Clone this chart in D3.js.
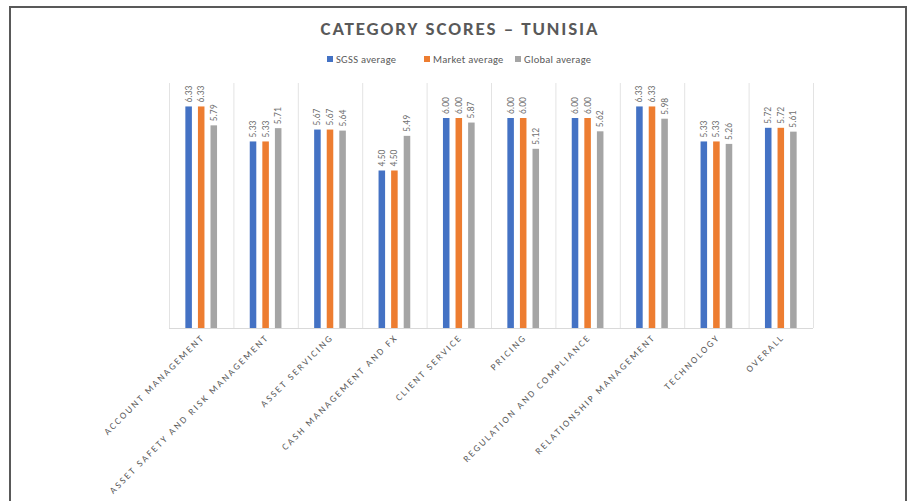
<!DOCTYPE html>
<html>
<head>
<meta charset="utf-8">
<script src="https://cdn.jsdelivr.net/npm/d3@7"></script>
<style>
  body { margin: 0; background: #fff; }
  svg { display: block; font-family: Calibri, Carlito, "Open Sans", sans-serif; }
</style>
</head>
<body>
<svg id="chart" width="911" height="501"></svg>
<script>
const categories = [
    'ACCOUNT MANAGEMENT', 'ASSET SAFETY AND RISK MANAGEMENT', 'ASSET SERVICING',
    'CASH MANAGEMENT AND FX', 'CLIENT SERVICE', 'PRICING', 'REGULATION AND COMPLIANCE',
    'RELATIONSHIP MANAGEMENT', 'TECHNOLOGY', 'OVERALL'
];
const seriesNames = ['SGSS average', 'Market average', 'Global average'];
const sgss   = [6.33, 5.33, 5.67, 4.50, 6.00, 6.00, 6.00, 6.33, 5.33, 5.72];
const market = [6.33, 5.33, 5.67, 4.50, 6.00, 6.00, 6.00, 6.33, 5.33, 5.72];
const global = [5.79, 5.71, 5.64, 5.49, 5.87, 5.12, 5.62, 5.98, 5.26, 5.61];
const colors = ['#4472C4', '#ED7D31', '#A5A5A5'];

const svg = d3.select('#chart');
const plot = { left: 169, right: 813, top: 83, bottom: 328 };

// frame around the chart (no bottom edge visible)
svg.append('path')
    .attr('d', `M10,501 V7 H906 V501`)
    .attr('fill', 'none')
    .attr('stroke', '#595959')
    .attr('stroke-width', 2);

svg.append('text')
    .attr('x', 460).attr('y', 35)
    .attr('text-anchor', 'middle')
    .attr('font-size', 19).attr('font-weight', 'bold')
    .attr('letter-spacing', 1.9)
    .attr('fill', '#595959')
    .text('CATEGORY SCORES \u2013 TUNISIA');

// legend
const legendX = [327, 424, 515];
const legend = svg.append('g');
seriesNames.forEach((name, i) => {
    legend.append('rect')
        .attr('x', legendX[i]).attr('y', 56)
        .attr('width', 6).attr('height', 6)
        .attr('fill', colors[i]);
    legend.append('text')
        .attr('x', legendX[i] + 9).attr('y', 62.5)
        .attr('font-size', 10.5).attr('letter-spacing', 0.3)
        .attr('fill', '#595959')
        .text(name);
});

const x = d3.scaleBand().domain(categories).range([plot.left, plot.right]);
const xs = d3.scaleBand().domain(d3.range(3)).range([0, x.bandwidth()])
    .paddingInner(0.48).paddingOuter(1.3);
const y = d3.scaleLinear().domain([0, 7]).range([plot.bottom, plot.top]);

// category dividers
const bounds = categories.map(c => x(c)).concat([plot.right]);
svg.append('g').selectAll('line').data(bounds).join('line')
    .attr('x1', d => d + 0.5).attr('x2', d => d + 0.5)
    .attr('y1', plot.top).attr('y2', plot.bottom)
    .attr('stroke', '#e3e3e3').attr('stroke-width', 1);

svg.append('line')
    .attr('x1', plot.left).attr('x2', plot.right)
    .attr('y1', plot.bottom + 0.5).attr('y2', plot.bottom + 0.5)
    .attr('stroke', '#d9d9d9');

const series = [sgss, market, global];
const groups = svg.append('g').selectAll('g').data(series).join('g')
    .attr('fill', (d, i) => colors[i]);

groups.each(function (vals, si) {
    const g = d3.select(this);
    g.selectAll('rect').data(vals).join('rect')
        .attr('x', (d, i) => x(categories[i]) + xs(si))
        .attr('y', d => y(d))
        .attr('width', xs.bandwidth())
        .attr('height', d => plot.bottom - y(d));
    g.selectAll('text').data(vals).join('text')
        .attr('transform', (d, i) => {
            const cx = x(categories[i]) + xs(si) + xs.bandwidth() / 2 + 3;
            return `translate(${cx},${y(d) - 4}) rotate(-90)`;
        })
        .attr('font-size', 9.5).attr('fill', '#707070')
        .text(d => d.toFixed(2));
});

// rotated category labels
svg.append('g').selectAll('text').data(categories).join('text')
    .attr('transform', d => `translate(${x(d) + x.bandwidth() / 2 + 4},${plot.bottom + 10}) rotate(-45)`)
    .attr('text-anchor', 'end')
    .attr('font-size', 9.5).attr('letter-spacing', 2.1)
    .attr('fill', '#595959')
    .text(d => d);
</script>
</body>
</html>
